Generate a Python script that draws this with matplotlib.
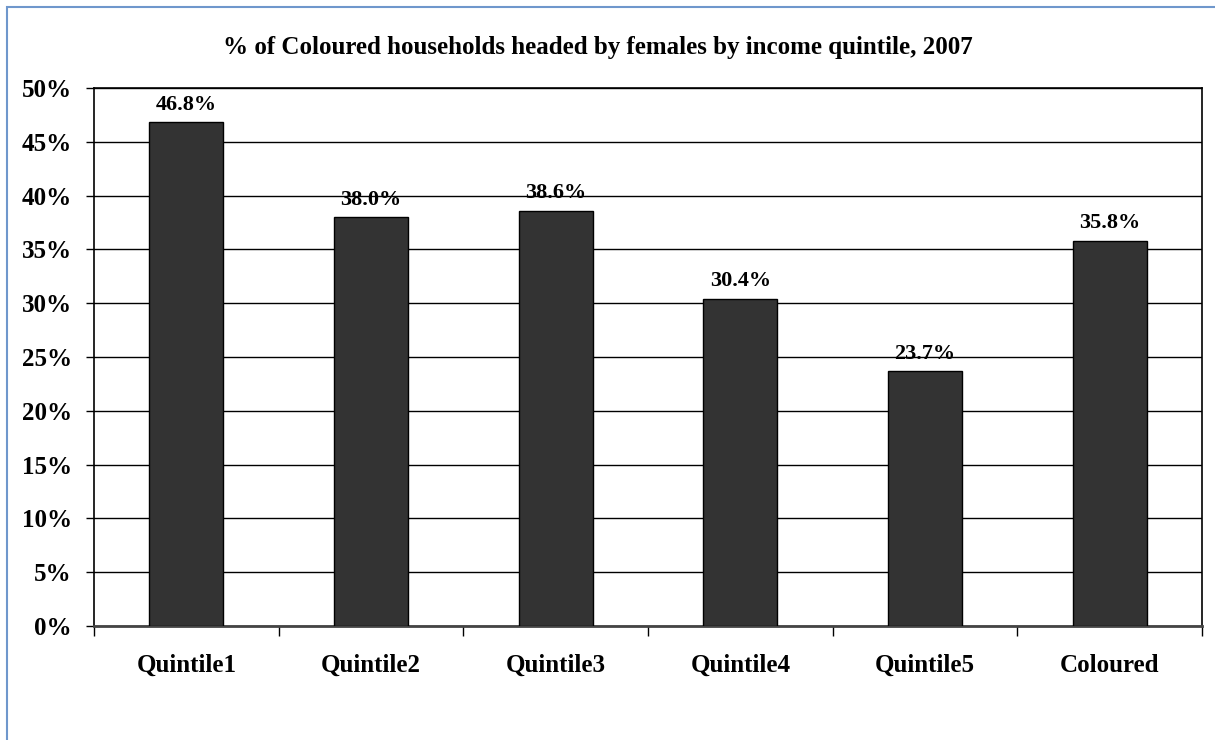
import matplotlib.pyplot as plt
from matplotlib.patches import Rectangle
from matplotlib.ticker import FuncFormatter, MultipleLocator

categories = ["Quintile1", "Quintile2", "Quintile3", "Quintile4", "Quintile5", "Coloured"]
shares = [46.8, 38.0, 38.6, 30.4, 23.7, 35.8]

plt.rcParams['font.family'] = ['Liberation Serif', 'DejaVu Serif']
plt.rcParams['font.weight'] = 'bold'

fig = plt.figure(figsize=(12.15, 7.4), dpi=100)
ax = fig.add_axes([0.0774, 0.154, 0.912, 0.727])

# outer chart frame
fig.patches.append(Rectangle((7 / 1215, -0.05), 1.1, 1 - 7 / 740 + 0.05,
                             transform=fig.transFigure, fill=False,
                             edgecolor='#6f97cc', linewidth=1.5))

x = range(len(categories))
ax.bar(x, shares, width=0.4, color='#333333', edgecolor='black', linewidth=1, zorder=3)

for xi, v in zip(x, shares):
    ax.text(xi, v + 0.7, f"{v:.1f}%", ha='center', va='bottom',
            fontsize=16, fontweight='bold', zorder=4)

ax.set_xlim(-0.5, len(categories) - 0.5)
ax.set_ylim(0, 50)
ax.yaxis.set_major_locator(MultipleLocator(5))
ax.yaxis.set_major_formatter(FuncFormatter(lambda v, _: f"{v:.0f}%"))
ax.grid(axis='y', color='black', linewidth=1, zorder=0)

ax.set_xticks(list(x))
ax.set_xticklabels(categories, fontsize=18, fontweight='bold')
ax.tick_params(axis='x', length=0, pad=20)
ax.set_xticks([i - 0.5 for i in range(len(categories) + 1)], minor=True)
ax.tick_params(axis='x', which='minor', length=7, width=1, direction='out')
ax.tick_params(axis='y', length=6, width=1, direction='out', labelsize=18, pad=10)
for lab in ax.get_yticklabels():
    lab.set_fontweight('bold')

for s in ax.spines.values():
    s.set_color('black')
    s.set_linewidth(1.2)
ax.spines['bottom'].set_color('#444444')
ax.spines['bottom'].set_linewidth(2)

fig.text(0.492, 0.936, "% of Coloured households headed by females by income quintile, 2007",
         ha='center', va='center', fontsize=18, fontweight='bold')

fig.savefig("out.png", dpi=100)
